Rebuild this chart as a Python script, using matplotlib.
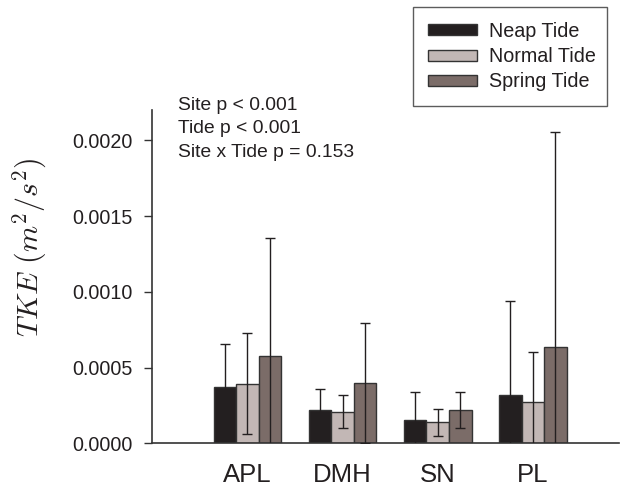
import numpy as np
import matplotlib
matplotlib.use("Agg")
import matplotlib.pyplot as plt
import matplotlib.patches as mpatches

sites = ["APL", "DMH", "SN", "PL"]
tides = ["Neap Tide", "Normal Tide", "Spring Tide"]

neap_mean = [0.000372, 0.000218, 0.000152, 0.000319]
neap_err = [0.000283, 0.000140, 0.000189, 0.000620]
normal_mean = [0.000394, 0.000209, 0.000139, 0.000275]
normal_err = [0.000334, 0.000110, 0.000090, 0.000328]
spring_mean = [0.000579, 0.000398, 0.000222, 0.000638]
spring_err = [0.000776, 0.000396, 0.000119, 0.001420]

colors = ["#231f20", "#c2b7b5", "#7b6c68"]
ink = "#231f20"

plt.rcParams["font.family"] = ["Liberation Sans", "DejaVu Sans"]
plt.rcParams["mathtext.fontset"] = "cm"

fig = plt.figure(figsize=(6.2, 4.87), dpi=100)
ax = fig.add_axes([0.2456, 0.0897, 0.752, 0.6844])

x = np.arange(len(sites))
width = 0.237
series = [(neap_mean, neap_err), (normal_mean, normal_err), (spring_mean, spring_err)]

patches = []
for i, (mean, err) in enumerate(series):
    pos = x + (i - 1) * width
    ax.bar(pos, mean, width, color=colors[i], edgecolor="#333333",
           linewidth=1.0, zorder=2)
    ax.errorbar(pos, mean, yerr=err, fmt="none", ecolor=ink,
                elinewidth=1.0, capsize=3.8, capthick=1.0, zorder=3)
    patches.append(mpatches.Patch(facecolor=colors[i], edgecolor="#333333",
                                  linewidth=1.0, label=tides[i]))

ax.set_xlim(-1, 3.9)
ax.set_ylim(0, 0.0022)
ax.set_yticks([0.0, 0.0005, 0.0010, 0.0015, 0.0020])
ax.set_yticklabels(["%.4f" % v for v in ax.get_yticks()])
ax.set_xticks(x)
ax.set_xticklabels(sites)

for s in ["top", "right"]:
    ax.spines[s].set_visible(False)
for s in ["left", "bottom"]:
    ax.spines[s].set_color("#333333")
    ax.spines[s].set_linewidth(1.2)

ax.tick_params(axis="y", direction="out", length=5.5, width=1.0,
               color="#333333", pad=9.0, labelsize=14.2, labelcolor=ink)
ax.tick_params(axis="x", length=0, pad=14, labelsize=18.5, labelcolor=ink)

ax.set_ylabel(r"$TKE\ (m^2/s^2)$", fontsize=21.5, color=ink)
ax.yaxis.set_label_coords(-0.222, 0.589)

ax.text(0.0555, 1.04, "Site p < 0.001\nTide p < 0.001\nSite x Tide p = 0.153",
        transform=ax.transAxes, fontsize=13.9, color=ink, va="top",
        ha="left", linespacing=1.5)

leg = fig.legend(handles=patches, loc="upper left",
                 bbox_to_anchor=(413 / 620, 1 - 102 / 487, 194 / 620, 95 / 487),
                 mode="expand", fontsize=14.2,
                 frameon=True, fancybox=False, handlelength=2.5,
                 handleheight=0.48, handletextpad=0.6, labelspacing=0.32,
                 borderpad=0.75, borderaxespad=0)
leg.get_frame().set_edgecolor("#333333")
leg.get_frame().set_linewidth(1.0)
for t in leg.get_texts():
    t.set_color(ink)

fig.savefig("out.png", dpi=100)
